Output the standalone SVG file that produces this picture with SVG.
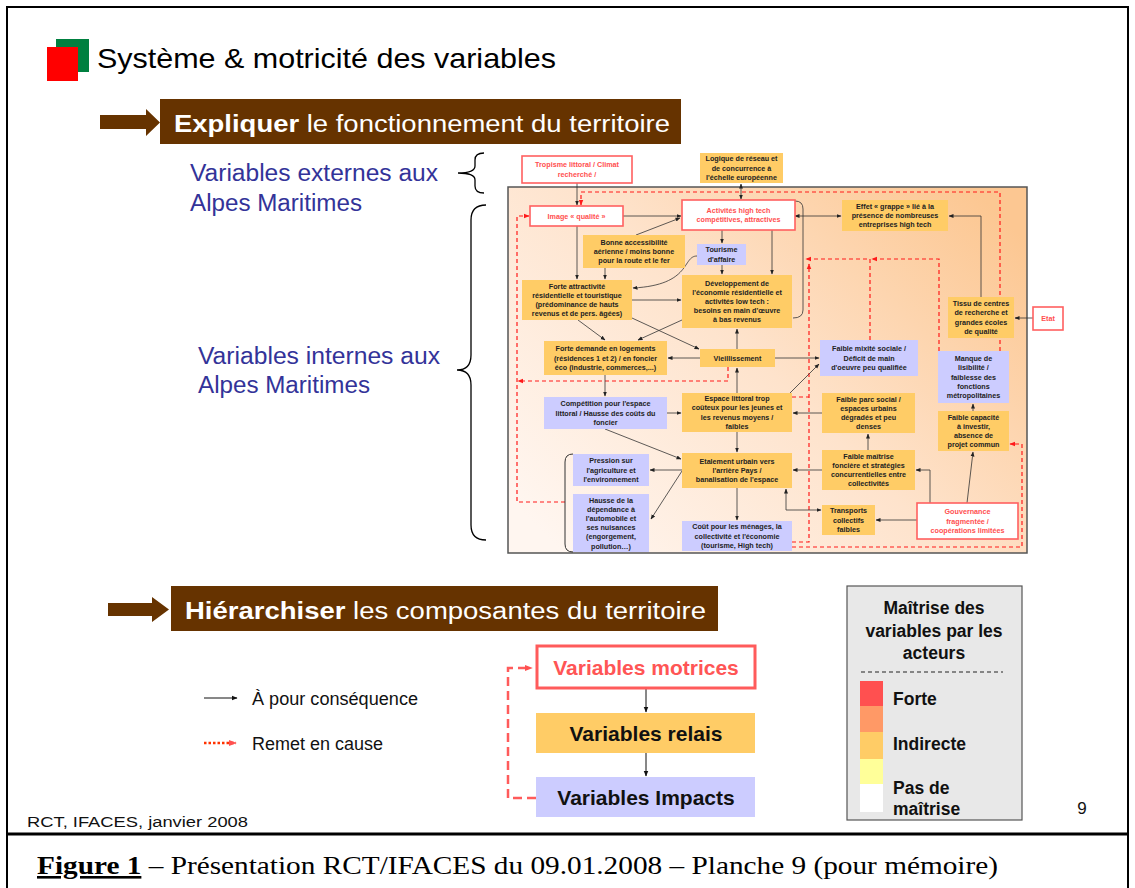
<svg xmlns="http://www.w3.org/2000/svg" width="1135" height="888" viewBox="0 0 1135 888">
<style>
.t{font-family:"Liberation Sans",Arial,sans-serif;font-weight:bold;font-size:7.2px;text-anchor:middle;fill:#222}
.tr{fill:#ff4f4f}
.o{fill:#ffcc66}
.p{fill:#ccccff}
.w{fill:#fff;stroke:#ff6060;stroke-width:1.6}
.k{fill:none;stroke:#333;stroke-width:0.8}
.r{fill:none;stroke:#ff1a1a;stroke-width:1.2;stroke-dasharray:4 3}
.big{font-family:"Liberation Sans",Arial,sans-serif}
.blue{font-family:"Liberation Sans",Arial,sans-serif;font-size:23.5px;fill:#333399}
.lg{font-family:"Liberation Sans",Arial,sans-serif;font-weight:bold;font-size:17.5px;fill:#111}
</style>
<defs>
<marker id="ah" viewBox="0 0 10 10" refX="9" refY="5" markerWidth="5" markerHeight="5" markerUnits="userSpaceOnUse" orient="auto-start-reverse"><path d="M0,1 L10,5 L0,9z" fill="#222"/></marker>
<marker id="ar" viewBox="0 0 10 10" refX="9" refY="5" markerWidth="6" markerHeight="6" markerUnits="userSpaceOnUse" orient="auto"><path d="M0,1 L10,5 L0,9z" fill="#ff1a1a"/></marker>
<marker id="ar2" viewBox="0 0 10 10" refX="9" refY="5" markerWidth="8" markerHeight="8" markerUnits="userSpaceOnUse" orient="auto"><path d="M0,1 L10,5 L0,9z" fill="#ff5050"/></marker>
<marker id="ab" viewBox="0 0 10 10" refX="9" refY="5" markerWidth="6" markerHeight="6" markerUnits="userSpaceOnUse" orient="auto"><path d="M0,1 L10,5 L0,9z" fill="#111"/></marker>
<linearGradient id="bg" x1="0" y1="0.85" x2="1" y2="0.15">
<stop offset="0" stop-color="#fff6f0"/>
<stop offset="0.5" stop-color="#fee3cc"/>
<stop offset="1" stop-color="#fcc792"/>
</linearGradient>
</defs>

<rect width="1135" height="888" fill="#fff"/>
<rect x="7" y="7" width="1121" height="900" fill="none" stroke="#000" stroke-width="2"/>
<line x1="7" y1="834" x2="1128" y2="834" stroke="#000" stroke-width="3"/>

<!-- Title -->
<g id="title">
<rect x="56" y="39" width="33" height="33" fill="#008040"/>
<rect x="47" y="47" width="31" height="34" fill="#ff0000"/>
<text x="97" y="68" class="big" font-size="28" fill="#000" textLength="459" lengthAdjust="spacingAndGlyphs">Système &amp; motricité des variables</text>
</g>

<!-- Explique banner -->
<g id="banner-expliquer">
<polygon points="100,115 146,115 146,109 160,122.5 146,136 146,129 100,129" fill="#663300"/>
<rect x="160" y="99" width="521" height="45" fill="#663300"/>
<text x="174" y="132" class="big" font-size="23.5" fill="#fff" textLength="496" lengthAdjust="spacingAndGlyphs"><tspan font-weight="bold">Expliquer</tspan> le fonctionnement du territoire</text>
</g>

<g id="labels-left">
<text x="190" y="181" class="blue" textLength="248" lengthAdjust="spacingAndGlyphs">Variables externes aux</text>
<text x="190" y="211" class="blue" textLength="172" lengthAdjust="spacingAndGlyphs">Alpes Maritimes</text>
<text x="198" y="364" class="blue" textLength="242" lengthAdjust="spacingAndGlyphs">Variables internes aux</text>
<text x="198" y="393" class="blue" textLength="172" lengthAdjust="spacingAndGlyphs">Alpes Maritimes</text>
<path d="M484,153 Q475,153 475,160 L475,166 Q475,173 458,173 Q475,173 475,180 L475,186 Q475,193 484,193" fill="none" stroke="#000" stroke-width="1.3"/>
<path d="M486,205 Q471,205 471,220 L471,355 Q471,370 457,370 Q471,370 471,385 L471,525 Q471,540 486,540" fill="none" stroke="#000" stroke-width="1.3"/>
</g>

<!-- Frame -->
<rect id="frame" x="508" y="187" width="519" height="366" fill="url(#bg)" stroke="#555" stroke-width="1.5"/>

<!-- Connectors -->
<g id="connectors">
<path class="r" d="M1000,351 L1000,192 L581,192 L581,205" marker-end="url(#ar)"/>
<path class="r" d="M565,502 L517,502 L517,216 L529,216" marker-end="url(#ar)"/>
<path class="r" d="M728,367 L728,381 L518,381" marker-end="url(#ar)"/>
<path class="r" d="M939,351 L939,259 L872,259" marker-end="url(#ar)"/>
<path class="r" d="M870,340 L870,259 L806,259" marker-end="url(#ar)"/>
<path class="r" d="M792,542 L809,542 L809,264" marker-end="url(#ar)"/>
<path class="r" d="M792,397 L809,397"/>
<path class="r" d="M792,547 L1022,547 L1022,444 L1010,444" marker-end="url(#ar)"/>

<path class="k" d="M577,183 L577,205" marker-end="url(#ah)"/>
<path class="k" d="M741,184 L741,199" marker-start="url(#ah)" marker-end="url(#ah)"/>
<path class="k" d="M623,216 L681,216" marker-end="url(#ah)"/>
<path class="k" d="M636,235 L680,218" marker-end="url(#ah)"/>
<path class="k" d="M577,226 L577,279" marker-end="url(#ah)"/>
<path class="k" d="M605,268 L605,279" marker-end="url(#ah)"/>
<path class="k" d="M697,256 C682,256 692,285 633,288" marker-end="url(#ah)"/>
<path class="k" d="M722,230 L722,243" marker-end="url(#ah)"/>
<path class="k" d="M772,230 L772,274" marker-end="url(#ah)"/>
<path class="k" d="M722,265 L722,274" marker-end="url(#ah)"/>
<path class="k" d="M795,201 Q803,201 803,209 L803,310 Q803,318 793,318"/>
<path class="k" d="M795,216 L841,216" marker-start="url(#ah)" marker-end="url(#ah)"/>
<path class="k" d="M981,297 L981,216 L949,216" marker-end="url(#ah)"/>
<path class="k" d="M1033,318 L1015,318" marker-end="url(#ah)"/>
<path class="k" d="M632,300 L681,300" marker-end="url(#ah)"/>
<path class="k" d="M632,318 L699,349" marker-end="url(#ah)"/>
<path class="k" d="M578,320 L605,340" marker-end="url(#ah)"/>
<path class="k" d="M682,320 L638,340" marker-end="url(#ah)"/>
<path class="k" d="M700,358 L668,358" marker-end="url(#ah)"/>
<path class="k" d="M605,375 L605,396" marker-end="url(#ah)"/>
<path class="k" d="M737,349 L737,329" marker-end="url(#ah)"/>
<path class="k" d="M737,393 L737,368" marker-end="url(#ah)"/>
<path class="k" d="M775,358 L819,358" marker-end="url(#ah)"/>
<path class="k" d="M790,393 L819,364" marker-end="url(#ah)"/>
<path class="k" d="M822,413 L793,413" marker-end="url(#ah)"/>
<path class="k" d="M973,411 L973,404" marker-end="url(#ah)"/>
<path class="k" d="M868,450 L868,434" marker-end="url(#ah)"/>
<path class="k" d="M667,413 L681,413" marker-end="url(#ah)"/>
<path class="k" d="M605,429 L681,459" marker-end="url(#ah)"/>
<path class="k" d="M682,470 L650,470" marker-end="url(#ah)"/>
<path class="k" d="M682,471 L651,519" marker-end="url(#ah)"/>
<path class="k" d="M737,432 L737,452" marker-end="url(#ah)"/>
<path class="k" d="M737,488 L737,520" marker-end="url(#ah)"/>
<path class="k" d="M822,470 L793,470" marker-end="url(#ah)"/>
<path class="k" d="M786,489 L786,510 L821,510" marker-start="url(#ah)" marker-end="url(#ah)"/>
<path class="k" d="M917,520 L876,520" marker-end="url(#ah)"/>
<path class="k" d="M930,503 L930,470 L916,470" marker-end="url(#ah)"/>
<path class="k" d="M967,503 L973,452" marker-end="url(#ah)"/>
<path d="M573,454 Q565,454 565,462 L565,544 Q565,552 573,552" fill="none" stroke="#333" stroke-width="1"/>
</g>

<!-- Nodes -->
<g id="n-tropisme"><rect class="w" x="522" y="156" width="110" height="27"/><text class="t tr" x="577" y="167.4">Tropisme littoral / Climat</text><text class="t tr" x="577" y="176.6">recherché /</text></g>
<g id="n-logique"><rect class="o" x="700" y="153" width="83" height="30"/><text class="t" x="741.5" y="161.3">Logique de réseau et</text><text class="t" x="741.5" y="170.5">de concurrence à</text><text class="t" x="741.5" y="179.7">l'échelle européenne</text></g>
<g id="n-etat"><rect class="w" x="1033" y="307" width="30" height="23"/><text class="t tr" x="1048" y="321">Etat</text></g>
<g id="n-image"><rect class="w" x="530" y="206" width="93" height="20"/><text class="t tr" x="576.5" y="218.5">Image «  qualité »</text></g>
<g id="n-activites"><rect class="w" x="682" y="200" width="113" height="30"/><text class="t tr" x="738.5" y="212.9">Activités high tech</text><text class="t tr" x="738.5" y="222.1">compétitives, attractives</text></g>
<g id="n-effet"><rect class="o" x="842" y="200" width="106" height="31"/><text class="t" x="895" y="208.8">Effet « grappe » lié à la</text><text class="t" x="895" y="218">présence de nombreuses</text><text class="t" x="895" y="227.2">entreprises high tech</text></g>
<g id="n-bonne"><rect class="o" x="583" y="235" width="102" height="33"/><text class="t" x="634" y="244.8">Bonne accessibilité</text><text class="t" x="634" y="254">aérienne / moins bonne</text><text class="t" x="634" y="263.2">pour la route et le fer</text></g>
<g id="n-tourisme"><rect class="p" x="697" y="244" width="49" height="21"/><text class="t" x="721.5" y="252.4">Tourisme</text><text class="t" x="721.5" y="261.6">d'affaire</text></g>
<g id="n-forte-attr"><rect class="o" x="522" y="280" width="110" height="40"/><text class="t" x="577" y="288.7">Forte attractivité</text><text class="t" x="577" y="297.9">résidentielle et touristique</text><text class="t" x="577" y="307.1">(prédominance de hauts</text><text class="t" x="577" y="316.3">revenus et de pers. âgées)</text></g>
<g id="n-developpement"><rect class="o" x="682" y="275" width="110" height="53"/><text class="t" x="737" y="285.6">Développement de</text><text class="t" x="737" y="294.8">l'économie résidentielle et</text><text class="t" x="737" y="304">activités low tech :</text><text class="t" x="737" y="313.2">besoins en main d'œuvre</text><text class="t" x="737" y="322.4">à bas revenus</text></g>
<g id="n-tissu"><rect class="o" x="948" y="297" width="66" height="41"/><text class="t" x="981" y="306.2">Tissu de centres</text><text class="t" x="981" y="315.4">de recherche et</text><text class="t" x="981" y="324.6">grandes écoles</text><text class="t" x="981" y="333.8">de qualité</text></g>
<g id="n-demande"><rect class="o" x="544" y="341" width="123" height="34"/><text class="t" x="605.5" y="351.3">Forte demande en logements</text><text class="t" x="605.5" y="360.5">(résidences 1 et 2) / en foncier</text><text class="t" x="605.5" y="369.7">éco (industrie, commerces,...)</text></g>
<g id="n-vieillissement"><rect class="o" x="700" y="349" width="75" height="18"/><text class="t" x="737.5" y="360.5">Vieillissement</text></g>
<g id="n-mixite"><rect class="p" x="820" y="340" width="98" height="36"/><text class="t" x="869" y="351.3">Faible mixité sociale /</text><text class="t" x="869" y="360.5">Déficit de main</text><text class="t" x="869" y="369.7">d'oeuvre peu qualifiée</text></g>
<g id="n-manque"><rect class="p" x="938" y="351" width="71" height="52"/><text class="t" x="973.5" y="361.1">Manque de</text><text class="t" x="973.5" y="370.3">lisibilité /</text><text class="t" x="973.5" y="379.5">faiblesse des</text><text class="t" x="973.5" y="388.7">fonctions</text><text class="t" x="973.5" y="397.9">métropolitaines</text></g>
<g id="n-competition"><rect class="p" x="544" y="397" width="123" height="32"/><text class="t" x="605.5" y="406.3">Compétition pour l'espace</text><text class="t" x="605.5" y="415.5">littoral / Hausse des coûts du</text><text class="t" x="605.5" y="424.7">foncier</text></g>
<g id="n-espace"><rect class="o" x="682" y="393" width="110" height="39"/><text class="t" x="737" y="401.2">Espace littoral trop</text><text class="t" x="737" y="410.4">coûteux pour les jeunes et</text><text class="t" x="737" y="419.6">les revenus moyens /</text><text class="t" x="737" y="428.8">faibles</text></g>
<g id="n-parc"><rect class="o" x="822" y="393" width="93" height="40"/><text class="t" x="868.5" y="401.7">Faible parc social /</text><text class="t" x="868.5" y="410.9">espaces urbains</text><text class="t" x="868.5" y="420.1">dégradés et peu</text><text class="t" x="868.5" y="429.3">denses</text></g>
<g id="n-capacite"><rect class="o" x="938" y="411" width="71" height="40"/><text class="t" x="973.5" y="419.7">Faible capacité</text><text class="t" x="973.5" y="428.9">à investir,</text><text class="t" x="973.5" y="438.1">absence de</text><text class="t" x="973.5" y="447.3">projet commun</text></g>
<g id="n-pression"><rect class="p" x="573" y="454" width="76" height="32"/><text class="t" x="611" y="463.3">Pression sur</text><text class="t" x="611" y="472.5">l'agriculture et</text><text class="t" x="611" y="481.7">l'environnement</text></g>
<g id="n-etalement"><rect class="o" x="682" y="453" width="110" height="35"/><text class="t" x="737" y="463.8">Etalement urbain vers</text><text class="t" x="737" y="473">l'arrière Pays /</text><text class="t" x="737" y="482.2">banalisation de l'espace</text></g>
<g id="n-maitrise"><rect class="o" x="822" y="450" width="93" height="40"/><text class="t" x="868.5" y="458.7">Faible maîtrise</text><text class="t" x="868.5" y="467.9">foncière et stratégies</text><text class="t" x="868.5" y="477.1">concurrentielles entre</text><text class="t" x="868.5" y="486.3">collectivités</text></g>
<g id="n-hausse"><rect class="p" x="573" y="494" width="76" height="58"/><text class="t" x="611" y="502.5">Hausse de la</text><text class="t" x="611" y="511.7">dépendance à</text><text class="t" x="611" y="520.9">l'automobile et</text><text class="t" x="611" y="530.1">ses nuisances</text><text class="t" x="611" y="539.3">(engorgement,</text><text class="t" x="611" y="548.5">pollution…)</text></g>
<g id="n-transports"><rect class="o" x="822" y="505" width="53" height="30"/><text class="t" x="848.5" y="513.3">Transports</text><text class="t" x="848.5" y="522.5">collectifs</text><text class="t" x="848.5" y="531.7">faibles</text></g>
<g id="n-gouvernance"><rect class="w" x="917" y="503" width="101" height="36"/><text class="t tr" x="967.5" y="514.3">Gouvernance</text><text class="t tr" x="967.5" y="523.5">fragmentée /</text><text class="t tr" x="967.5" y="532.7">coopérations limitées</text></g>
<g id="n-cout"><rect class="p" x="682" y="521" width="110" height="30"/><text class="t" x="737" y="529.3">Coût pour les ménages, la</text><text class="t" x="737" y="538.5">collectivité et l'économie</text><text class="t" x="737" y="547.7">(tourisme, High tech)</text></g>

<!-- Hiérarchiser banner -->
<g id="banner-hierarchiser">
<polygon points="108,603 152,603 152,597 169,609.5 152,622 152,616 108,616" fill="#663300"/>
<rect x="171" y="586" width="547" height="45" fill="#663300"/>
<text x="185" y="619" class="big" font-size="23.5" fill="#fff" textLength="521" lengthAdjust="spacingAndGlyphs"><tspan font-weight="bold">Hiérarchiser</tspan> les composantes du territoire</text>
</g>

<!-- Legend arrows -->
<g id="legend-lines">
<line x1="204" y1="698" x2="237" y2="698" stroke="#111" stroke-width="1" marker-end="url(#ab)"/>
<text x="252" y="705" class="big" font-size="17.5" fill="#111" textLength="166" lengthAdjust="spacingAndGlyphs">À pour conséquence</text>
<line x1="204" y1="743" x2="236" y2="743" stroke="#ff3300" stroke-width="2.5" stroke-dasharray="2.5 2" marker-end="url(#ar2)"/>
<text x="252" y="750" class="big" font-size="17.5" fill="#111" textLength="131" lengthAdjust="spacingAndGlyphs">Remet en cause</text>
</g>

<g id="legend-hier-connectors">
<path d="M536,798 L508,798 L508,668 L532,668" fill="none" stroke="#ff5b5b" stroke-width="2.5" stroke-dasharray="9 5" marker-end="url(#ar2)"/>
<line x1="646" y1="689" x2="646" y2="712" stroke="#111" stroke-width="1" marker-end="url(#ab)"/>
<line x1="646" y1="753" x2="646" y2="776" stroke="#111" stroke-width="1" marker-end="url(#ab)"/>
</g>
<g id="v-motrices"><rect x="537" y="646" width="218" height="42" fill="#fff" stroke="#ff5b5b" stroke-width="3"/><text x="646" y="675" class="big" font-size="21" font-weight="bold" fill="#ff5555" text-anchor="middle">Variables motrices</text></g>
<g id="v-relais"><rect x="536" y="713" width="219" height="40" fill="#ffcc66"/><text x="646" y="741" class="big" font-size="21" font-weight="bold" fill="#111" text-anchor="middle">Variables relais</text></g>
<g id="v-impacts"><rect x="536" y="777" width="219" height="40" fill="#ccccff"/><text x="646" y="805" class="big" font-size="21" font-weight="bold" fill="#111" text-anchor="middle">Variables Impacts</text></g>

<!-- Maîtrise legend -->
<g id="legend-maitrise">
<rect x="847" y="586" width="175" height="234" fill="#e8e8e8" stroke="#555" stroke-width="1.2"/>
<text x="934" y="614" class="lg" text-anchor="middle">Maîtrise des</text>
<text x="934" y="637" class="lg" text-anchor="middle">variables par les</text>
<text x="934" y="659" class="lg" text-anchor="middle">acteurs</text>
<line x1="861" y1="672" x2="1003" y2="672" stroke="#222" stroke-width="1" stroke-dasharray="4 3"/>
<rect x="860" y="681" width="23" height="25" fill="#ff5050"/>
<rect x="860" y="706" width="23" height="26" fill="#ff9966"/>
<rect x="860" y="732" width="23" height="27" fill="#ffcc66"/>
<rect x="860" y="759" width="23" height="25" fill="#ffff99"/>
<rect x="860" y="784" width="23" height="28" fill="#ffffff"/>
<text x="893" y="705" class="lg">Forte</text>
<text x="893" y="750" class="lg">Indirecte</text>
<text x="893" y="794" class="lg">Pas de</text>
<text x="893" y="815" class="lg">maîtrise</text>
</g>

<text x="1082" y="814" class="big" font-size="17" fill="#111" text-anchor="middle">9</text>
<text x="27" y="827" class="big" font-size="15.5" fill="#111" textLength="221" lengthAdjust="spacingAndGlyphs">RCT, IFACES, janvier 2008</text>

<text x="37" y="874" font-family="'Liberation Serif','Times New Roman',serif" font-size="26" fill="#000" textLength="961" lengthAdjust="spacingAndGlyphs"><tspan font-weight="bold" text-decoration="underline">Figure 1</tspan> – Présentation RCT/IFACES du 09.01.2008 – Planche 9 (pour mémoire)</text>
</svg>
